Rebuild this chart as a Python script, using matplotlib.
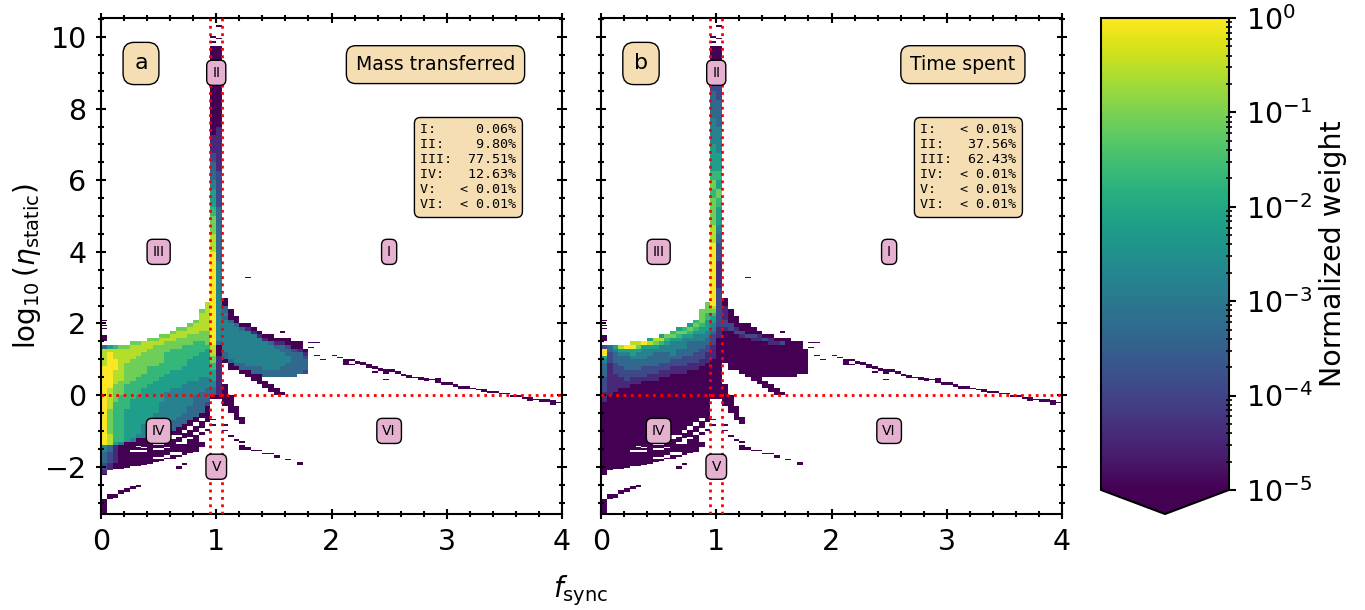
import numpy as np
import matplotlib
matplotlib.use("Agg")
import matplotlib.pyplot as plt
from matplotlib.colors import LogNorm
from matplotlib.ticker import MultipleLocator

# weight levels: '.' empty, 0 = 1e-5 ... 9 = 1
# one string per row, first row is y 2.9-3.0, rows 0.1 tall, columns f bins 0.05 wide
rows_a = [
    ".......... .........9 4",
    ".......... .........9 4",
    ".......... .........9 4",
    ".......... .........9 40",
    ".......... ........89 40",
    ".......... ........89 43",
    ".......... .......789 430",
    ".......... .......889 440",
    ".......... .......889 4300",
    ".......... ......7889 4430",
    ".......... .....78889 444300",
    ".......... ...7788889 4444310",
    ".......... ..78888779 44444410",
    ".......... 7788877779 4444444100",
    "........77 8887777779 4444444410 000",
    ".....77888 8777776679 3444444443 11000",
    "3567788887 7777666668 0444444444 33200",
    "8888888877 7766666658 0444444444 433210",
    "8988888777 7666666558 0344444444 443331",
    "8988887777 7666665557 1344444444 444332",
    "8998877777 7666655557 1034444444 444333",
    "8998777777 6666655556 1.03344444 443333",
    "9998777766 6666555556 1.00333344 433333",
    "9988777766 6655555555 1...003333 333332",
    "9988777666 6555555555 1....00033 3333",
    "9988776666 5555555445 1.....00",
    "9987766665 5555544444 1......00",
    "9977666655 5555444444 10......00",
    "9877666555 5544444433 10.......0 0",
    "9877666555 5444444333 10........ 00",
    "9876665555 5444443330 000",
    "9876655555 544444333. .00",
    "9866655555 444444332. .00",
    "9866655555 444443330. ..00",
    "9766555555 444443330. ..00",
    "9766555554 444433300. ...0",
    "9766555554 444333.... ...00",
    "9766555544 44333..... ....0",
    "9766555444 4433",
    "9766555444 443",
    "9766555444 43",
    "9866554443",
    "986654",
    "9854",
    "431",
    "431",
    "321",
    "321",
    "321",
    "21",
    "21",
    "1",
]
rows_b = [
    ".......... .........9 2",
    ".......... .........9 2",
    ".......... .........9 2",
    ".......... .........9 20",
    ".......... ........79 20",
    ".......... ........78 21",
    ".......... .......777 210",
    ".......... .......766 210",
    ".......... .......765 2100",
    ".......... ......6755 2200",
    ".......... .....57654 222000",
    ".......... ...5676554 1121000",
    ".......... ..67765543 10022000",
    ".......... 5776554442 1000122100",
    "........58 8655444432 0000001121 000",
    ".....88987 6544433332 0000000001 12000",
    "2358997555 4444433321 0000000000 00000",
    "9345555444 4443333221 0000000000 000000",
    "9234454443 3343332211 0000000000 000000",
    "5233344433 3333222211 0000000000 000000",
    "4233333333 3322222110 0000000000 000000",
    "3123333333 2222211100 0.00000000 000000",
    "3122333222 2211111000 0.00000000 000000",
    "3122222222 1111100000 0...000000 000000",
    "3112222211 1100000000 0....00000 0000",
    "2111211111 0000000000 0.....00",
    "2111111000 0000000000 0......00",
    "2111100000 0000000000 00......00",
    "2110000000 0000000000 00.......0 0",
    "1100000000 0000000000 00........ 00",
    "1000000000 0000000000 000",
    "1000000000 000000000. .00",
    "0000000000 000000000. .00",
    "0000000000 000000000. ..00",
    "0000000000 000000000. ..00",
    "0000000000 000000000. ...0",
    ".......... .......... ...00",
    ".......... .......... ....0",
]

# the spike above y = 3, cells 0.25 tall, columns f 0.95-1.0 and 1.0-1.05
spike_a_left = "999988776554332110000000000"
spike_a_right = "444333333222211111000000000"
spike_b_left = "999998877767655544433322000"
spike_b_right = "111223455675655444333222000"

# dark cells under the wedge (f bin index, y top, y bottom), same in both panels
low_k = [0, 1, 2, 3, 4,
         5, 5, 5, 6, 6, 6, 7, 7, 7, 8,
         9, 9, 9, 9, 10, 10, 10, 10, 11, 11, 11, 11,
         12, 12, 12, 13, 13, 13, 13, 13, 14, 14, 14, 14,
         15, 15, 15, 16, 16, 16, 17, 17, 17, 17, 18, 18]
low_top = [-.6, -.6, -.6, -.6, -.6,
           -.6, -1.46, -1.58, -.6, -1.46, -1.60, -.6, -1.49, -1.60, -.6,
           -.6, -1.40, -1.54, -1.79, -.6, -1.38, -1.54, -1.79, -.6, -1.30, -1.49, -1.75,
           -.6, -1.23, -1.68, -.6, -1.17, -1.36, -1.68, -1.98, -.6, -1.07, -1.36, -1.89,
           -.6, -.98, -1.23, -.6, -.86, -1.12, -.6, -.73, -1.02, -1.30, -.6, -.95]
low_bot = [-2.22, -2.09, -2.05, -2.05, -2.03,
           -1.44, -1.54, -1.98, -1.42, -1.54, -1.98, -1.44, -1.54, -1.94, -1.91,
           -1.35, -1.49, -1.72, -1.88, -1.30, -1.49, -1.72, -1.84, -1.26, -1.44, -1.68, -1.79,
           -1.12, -1.60, -1.79, -1.12, -1.30, -1.60, -1.72, -2.05, -.98, -1.21, -1.68, -1.96,
           -.86, -1.16, -1.63, -.76, -1.02, -1.58, -.63, -.93, -1.12, -1.44, -.76, -1.00]

# loose cells, same in both panels: left edge of f bin, y low, y high
bit_f = [0, 0, 0, 0, .95, .95, 1.0, 1.0, 1.25, 1.55,
         0, .05, .1, .15, .2, .25, .3, .35,
         .95, .95, 1.05, 1.05, 1.1, 1.15, 1.2, 1.2, 1.25, 1.3, 1.35, 1.4, 1.45, 1.5, 1.6, 1.7,
         1.8, 1.85, 1.8, 1.85, 1.9, 1.9, 2.0, 2.05, 2.0, 2.05]
bit_lo = [2.07, 1.93, 1.84, 1.5, 9.82, 9.98, 9.93, 10.28, 3.27, 1.74,
          -3.32, -2.9, -2.87, -2.77, -2.7, -2.63, -2.58, -2.55,
          -.69, -.85, -.85, -1.0, -1.16, -1.27, -1.33, -1.52, -1.52, -1.56, -1.56, -1.65, -1.65, -1.75, -1.82, -1.96,
          1.45, 1.45, 1.31, 1.09, 1.14, .99, 1.09, 1.04, .94, .94]
bit_hi = [2.1, 1.96, 1.88, 1.68, 9.89, 10.03, 9.97, 10.33, 3.31, 1.78,
          -2.89, -2.77, -2.75, -2.65, -2.6, -2.53, -2.52, -2.53,
          -.66, -.82, -.82, -.97, -1.12, -1.23, -1.29, -1.4, -1.44, -1.54, -1.54, -1.63, -1.63, -1.68, -1.78, -1.88,
          1.47, 1.47, 1.33, 1.11, 1.16, 1.01, 1.11, 1.06, .96, .96]

# thin tail running out to f = 4
tail_f = [2.1, 2.15, 2.15, 2.2, 2.25, 2.3, 2.35, 2.35, 2.4, 2.45, 2.45, 2.5, 2.55, 2.6, 2.65, 2.7,
          2.75, 2.8, 2.85, 2.9, 2.95, 3.0, 3.05, 3.1, 3.15, 3.2, 3.25, 3.3, 3.35, 3.4, 3.45, 3.5,
          3.55, 3.6, 3.65, 3.7, 3.75, 3.8, 3.85, 3.9, 3.95]
tail_lo = [.84, .95, .84, .86, .84, .76, .74, .62, .68, .6, .42, .64, .6, .53, .48, .47,
           .42, .4, .42, .35, .28, .28, .23, .17, .17, .16, .13, .08, .07, .07, .02, .02,
           -.06, -.06, -.1, -.16, -.13, -.2, -.2, -.27, -.22]
tail_hi = [1.01, 1.01, .87, .94, .93, .86, .8, .67, .76, .72, .46, .72, .67, .6, .56, .5,
           .5, .47, .44, .47, .37, .37, .32, .25, .25, .21, .16, .16, .12, .12, .07, .07,
           0, 0, -.05, -.05, -.1, -.12, -.12, -.14, -.18]

labels_pct = ["I:", "II:", "III:", "IV:", "V:", "VI:"]
pct_a = ["0.06%", "9.80%", "77.51%", "12.63%", "< 0.01%", "< 0.01%"]
pct_b = ["< 0.01%", "37.56%", "62.43%", "< 0.01%", "< 0.01%", "< 0.01%"]

region_names = ["I", "II", "III", "IV", "V", "VI"]
region_f = [2.5, 1.0, 0.5, 0.5, 1.0, 2.5]
region_y = [4.0, 9.0, 4.0, -1.0, -2.0, -1.0]

WHEAT = "#f5deb3"
PINK = "#e6b0d0"
norm = LogNorm(1e-5, 1)
cmap = plt.get_cmap("viridis")


def level_to_weight(level):
    return 10.0 ** (-5 + level * 5 / 9)


def rows_to_grid(rows):
    grid = np.full((len(rows), 36), np.nan)
    for i, row in enumerate(rows):
        for k, c in enumerate(row.replace(" ", "")):
            if c != ".":
                grid[i, k] = level_to_weight(int(c))
    return grid


def draw_panel(ax, rows, spike_left, spike_right, tag, title, title_x, pct):
    grid = rows_to_grid(rows)
    f_edges = np.arange(37) * 0.05
    y_edges = 3.0 - np.arange(len(rows) + 1) * 0.1
    dark = cmap(0.0)

    # dark cells first, the coloured table goes on top
    ax.bar([k * 0.05 for k in low_k], np.array(low_top) - np.array(low_bot), 0.05,
           bottom=low_bot, align="edge", color=dark, lw=0, zorder=1)
    ax.bar(bit_f, np.array(bit_hi) - np.array(bit_lo), 0.05,
           bottom=bit_lo, align="edge", color=dark, lw=0, zorder=1)
    ax.bar(tail_f, np.array(tail_hi) - np.array(tail_lo), 0.05,
           bottom=tail_lo, align="edge", color=dark, lw=0, zorder=1)

    mesh = ax.pcolormesh(f_edges, y_edges, grid, cmap=cmap, norm=norm, zorder=2)

    spike = np.array([[level_to_weight(int(a)), level_to_weight(int(b))]
                      for a, b in zip(spike_left, spike_right)])
    spike_y = 3.0 + np.arange(len(spike) + 1) * 0.25
    ax.pcolormesh([0.95, 1.0, 1.05], spike_y, spike, cmap=cmap, norm=norm, zorder=2)

    ax.axvline(0.95, color="red", ls=":", lw=2, zorder=3)
    ax.axvline(1.05, color="red", ls=":", lw=2, zorder=3)
    ax.axhline(0, color="red", ls=":", lw=2, zorder=3)

    ax.set_xlim(0, 4)
    ax.set_ylim(-3.32, 10.53)
    ax.set_xticks([0, 1, 2, 3, 4])
    ax.set_yticks([-2, 0, 2, 4, 6, 8, 10])
    ax.xaxis.set_minor_locator(MultipleLocator(0.2))
    ax.yaxis.set_minor_locator(MultipleLocator(0.5))
    ax.tick_params(which="major", direction="inout", length=7.7, width=1.5,
                   labelsize=20.5, top=True, right=True, pad=6.5)
    ax.tick_params(which="minor", direction="inout", length=3.8, width=1.5,
                   top=True, right=True)
    for s in ax.spines.values():
        s.set_linewidth(1.5)
    ax.set_axisbelow(False)

    for name, fx, fy in zip(region_names, region_f, region_y):
        ax.text(fx, fy, name, fontsize=10, ha="center", va="center", zorder=5,
                bbox=dict(boxstyle="round,pad=0.4", fc=PINK, ec="black", lw=1))
    ax.text(0.347, 9.26, tag, fontsize=16, ha="center", va="center", zorder=5,
            bbox=dict(boxstyle="round,pad=0.5", fc=WHEAT, ec="black", lw=1))
    ax.text(title_x, 0.906, title, transform=ax.transAxes, fontsize=13.6, ha="center",
            va="center", zorder=5,
            bbox=dict(boxstyle="round,pad=0.5", fc=WHEAT, ec="black", lw=1))
    lines = "\n".join(f"{a:<5}{b:>7}" for a, b in zip(labels_pct, pct))
    ax.text(0.797, 0.6986, lines, transform=ax.transAxes, family="DejaVu Sans Mono",
            fontsize=9.6, ha="center", va="center", zorder=5, linespacing=1.2,
            bbox=dict(boxstyle="round,pad=0.45", fc=WHEAT, ec="black", lw=1))
    return mesh


fig = plt.figure(figsize=(13.65, 6.1), dpi=100)
W, H = 1365.0, 610.0
ax_a = fig.add_axes([101 / W, 1 - 514 / H, 461 / W, 496 / H])
ax_b = fig.add_axes([601 / W, 1 - 514 / H, 461 / W, 496 / H])
cax = fig.add_axes([1101 / W, 1 - 514 / H, 128 / W, 496 / H])

mesh = draw_panel(ax_a, rows_a, spike_a_left, spike_a_right, "a", "Mass transferred", 0.7256, pct_a)
draw_panel(ax_b, rows_b, spike_b_left, spike_b_right, "b", "Time spent", 0.785, pct_b)
ax_b.tick_params(labelleft=False)

ax_a.set_ylabel(r"$\log_{10}(\eta_{\rm static})$", fontsize=20, labelpad=1)
fig.text(581 / W, 1 - 591 / H, r"$f_{\rm sync}$", fontsize=20, ha="center", va="center")

cb = fig.colorbar(mesh, cax=cax, extend="min", extendfrac=0.051)
cb.ax.tick_params(which="major", direction="out", length=5, width=1.5, labelsize=20.5, pad=7)
cb.ax.tick_params(which="minor", direction="inout", length=4, width=1.2)
cb.outline.set_linewidth(1.5)
cb.set_label("Normalized weight", fontsize=20.5, labelpad=5)

fig.savefig("out.png", dpi=100)
